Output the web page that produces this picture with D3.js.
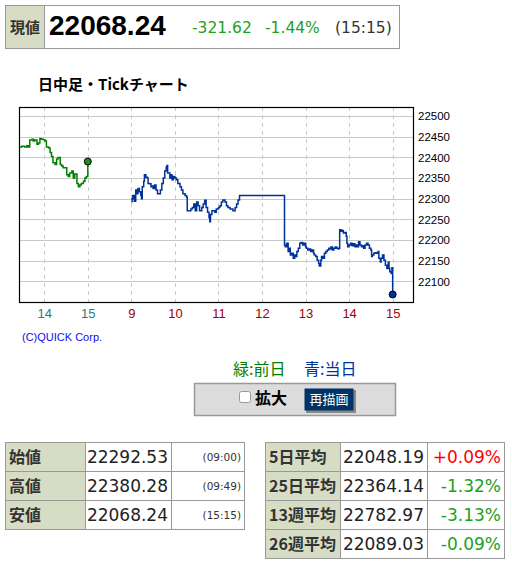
<!DOCTYPE html>
<html>
<head>
<meta charset="utf-8">
<script src="https://cdn.jsdelivr.net/npm/d3@7"></script>
<style>
  body { margin: 0; background: #fff; }
  svg text { font-family: "DejaVu Sans", sans-serif; }
  .jp { font-family: "Noto Sans CJK JP", sans-serif; }
</style>
</head>
<body>
<div id="page"></div>
<script>
// previous day ticks (green), times hh:mm
var prevTimes = ["13:25","13:29","13:33","13:36","13:38","13:40","13:43","13:45","13:47","13:50",
  "13:52","13:54","13:56","13:59","14:01","14:03","14:06","14:08","14:10","14:12",
  "14:15","14:17","14:19","14:22","14:24","14:26","14:29","14:31","14:33","14:35",
  "14:38","14:40","14:42","14:45","14:47","14:49","14:51","14:54","14:56","14:58","15:00"];
var prevValues = [22425,22427,22425,22428,22425,22442,22444,22440,22442,22432,
  22435,22446,22444,22443,22440,22425,22423,22412,22402,22387,
  22383,22396,22400,22383,22379,22375,22375,22358,22354,22362,
  22367,22350,22360,22337,22329,22333,22337,22342,22350,22354,22390];

// today ticks (blue)
var todayTimes = ["09:00","09:01","09:02","09:04","09:06","09:07","09:09","09:11","09:13","09:14",
  "09:15","09:17","09:18","09:20","09:22","09:23","09:25","09:27","09:29","09:30",
  "09:32","09:34","09:36","09:38","09:40","09:42","09:44","09:46","09:48","09:49",
  "09:50","09:53","09:54","09:56","09:58","10:00","10:02","10:04","10:07","10:09",
  "10:11","10:14","10:16","10:17","10:20","10:22","10:24","10:26","10:28","10:30",
  "10:32","10:34","10:37","10:39","10:41","10:43","10:45","10:47","10:48","10:49",
  "10:51","10:53","10:55","10:57","11:00","11:02","11:04","11:06","11:09","11:11",
  "11:13","11:16","11:18","11:20","11:23","11:25","11:27","11:29","11:30","12:30",
  "12:31","12:32","12:34","12:36","12:37","12:39","12:41","12:43","12:45","12:47",
  "12:48","12:50","12:52","12:54","12:56","12:58","13:00","13:01","13:03","13:05",
  "13:07","13:09","13:11","13:12","13:14","13:16","13:18","13:19","13:21","13:22",
  "13:24","13:26","13:28","13:30","13:32","13:34","13:35","13:37","13:39","13:41",
  "13:43","13:45","13:46","13:47","13:49","13:51","13:52","13:54","13:56","13:57",
  "13:58","14:00","14:02","14:04","14:06","14:08","14:09","14:11","14:13","14:15",
  "14:17","14:19","14:20","14:22","14:24","14:26","14:28","14:30","14:31","14:32",
  "14:34","14:36","14:38","14:40","14:41","14:43","14:44","14:46","14:48","14:50",
  "14:52","14:54","14:55","14:56","14:58","14:59","15:00"];
var todayValues = [22292.53,22300,22308,22294,22321,22312,22325,22317,22308,22300,
  22329,22342,22358,22352,22350,22337,22336,22329,22331,22325,
  22333,22321,22312,22312,22321,22337,22350,22367,22376,22380.28,
  22362,22350,22358,22346,22354,22350,22346,22337,22329,22321,
  22312,22308,22304,22271,22271,22275,22279,22287,22271,22292,
  22283,22271,22279,22287,22296,22279,22267,22254,22244,22262,
  22271,22271,22267,22275,22279,22283,22292,22297,22292,22283,
  22279,22275,22275,22271,22279,22287,22297,22308,22308,22308,
  22188,22184,22192,22172,22180,22164,22168,22156,22164,22160,
  22172,22180,22192,22194,22188,22192,22184,22180,22176,22178,
  22172,22176,22168,22164,22160,22151,22143,22137,22151,22160,
  22156,22168,22172,22176,22180,22178,22183,22176,22180,22183,
  22180,22178,22180,22225,22221,22223,22217,22218,22209,22192,
  22184,22188,22192,22186,22191,22184,22188,22184,22196,22188,
  22184,22186,22180,22188,22192,22188,22180,22176,22160,22164,
  22168,22169,22168,22172,22156,22147,22156,22164,22151,22139,
  22131,22147,22131,22123,22119,22133,22068.24];

var yTicks = [22100,22150,22200,22250,22300,22350,22400,22450,22500];
var prevTickHours = [14, 15];
var todayTickHours = [9, 10, 11, 12, 13, 14, 15];

var header = { label: "現値", price: "22068.24", change: "-321.62", pct: "-1.44%", time: "(15:15)" };

var priceRows = ["始値", "高値", "安値"];
var priceVals = ["22292.53", "22380.28", "22068.24"];
var priceTimes = ["(09:00)", "(09:49)", "(15:15)"];

var avgRows = ["5日平均", "25日平均", "13週平均", "26週平均"];
var avgVals = ["22048.19", "22364.14", "22782.97", "22089.03"];
var avgPcts = ["+0.09%", "-1.32%", "-3.13%", "-0.09%"];

var green = "#008000", blue = "#003399", labelBg = "#d7ddc5", borderC = "#999";

var svg = d3.select("#page").append("svg")
    .attr("width", 512)
    .attr("height", 567);

// ---- header box
svg.append("rect").attr("x", 5.5).attr("y", 5.5).attr("width", 394).attr("height", 43)
    .attr("fill", "#fff").attr("stroke", borderC);
svg.append("rect").attr("x", 5.5).attr("y", 5.5).attr("width", 39).attr("height", 43)
    .attr("fill", labelBg).attr("stroke", borderC);
svg.append("text").attr("class", "jp").attr("x", 25).attr("y", 32.5)
    .attr("text-anchor", "middle").style("font-size", "15px").style("font-weight", "bold")
    .attr("fill", "#333").text(header.label);
svg.append("text").attr("x", 49).attr("y", 35)
    .style("font-family", "'Liberation Sans', Arial, sans-serif")
    .style("font-size", "28px").style("font-weight", "bold").text(header.price);
svg.append("text").attr("x", 192).attr("y", 33).style("font-size", "15.5px")
    .attr("fill", "#22a022").text(header.change);
svg.append("text").attr("x", 265).attr("y", 33).style("font-size", "15.5px")
    .attr("fill", "#22a022").text(header.pct);
svg.append("text").attr("x", 335).attr("y", 33).style("font-size", "15.5px")
    .attr("fill", "#333").text(header.time);

// ---- chart title
svg.append("text").attr("class", "jp").attr("x", 38).attr("y", 90)
    .style("font-size", "15px").style("font-weight", "bold").text("日中足・Tickチャート");

// ---- chart
var plotL = 19, plotR = 414, plotT = 107, plotB = 302;

// virtual hour axis: previous day shifted back 7 hours
var x = d3.scaleLinear().domain([6.42, 15.49]).range([plotL, plotR]);
var y = d3.scaleLinear().domain([22050, 22522]).range([plotB, plotT]);

function hours(t) {
    var p = t.split(":");
    return +p[0] + p[1] / 60;
}

var prevData = prevTimes.map(function(t, i) { return { h: hours(t) - 7, v: prevValues[i] }; });
var todayData = todayTimes.map(function(t, i) { return { h: hours(t), v: todayValues[i] }; });

var xTicks = prevTickHours.map(function(h) { return { h: h - 7, label: h, prev: true }; })
    .concat(todayTickHours.map(function(h) { return { h: h, label: h, prev: false }; }));

var g = svg.append("g");

// horizontal grid
g.selectAll(".hgrid").data(yTicks).enter().append("line")
    .attr("x1", plotL).attr("x2", plotR)
    .attr("y1", function(d) { return Math.round(y(d)) + 0.5; })
    .attr("y2", function(d) { return Math.round(y(d)) + 0.5; })
    .attr("stroke", "#c8c8c8").attr("stroke-width", 1);

// vertical dashed grid
g.selectAll(".vgrid").data(xTicks).enter().append("line")
    .attr("x1", function(d) { return Math.round(x(d.h)) + 0.5; })
    .attr("x2", function(d) { return Math.round(x(d.h)) + 0.5; })
    .attr("y1", plotT).attr("y2", plotB)
    .attr("stroke", "#c8c8c8").attr("stroke-dasharray", "4,4");

var line = d3.line()
    .x(function(d) { return x(d.h); })
    .y(function(d) { return y(d.v); })
    .curve(d3.curveStepAfter);

g.append("path").datum(prevData).attr("d", line)
    .attr("fill", "none").attr("stroke", green).attr("stroke-width", 1.5);
g.append("path").datum(todayData).attr("d", line)
    .attr("fill", "none").attr("stroke", blue).attr("stroke-width", 1.5);

// end dots
var lastPrev = prevData[prevData.length - 1], lastToday = todayData[todayData.length - 1];
g.append("circle").attr("cx", x(lastPrev.h)).attr("cy", y(lastPrev.v)).attr("r", 3.5)
    .attr("fill", "#1e8c1e").attr("stroke", "#000");
g.append("circle").attr("cx", x(lastToday.h)).attr("cy", y(lastToday.v)).attr("r", 3.5)
    .attr("fill", blue).attr("stroke", "#000");

// frame
g.append("rect").attr("x", plotL + 0.5).attr("y", plotT + 0.5)
    .attr("width", plotR - plotL - 1).attr("height", plotB - plotT)
    .attr("fill", "none").attr("stroke", "#000").attr("stroke-width", 1.2);

// y labels on the right
var yAxis = g.append("g")
    .attr("transform", "translate(" + plotR + ",0)")
    .call(d3.axisRight(y).tickValues(yTicks).tickSize(0).tickPadding(4).tickFormat(d3.format("d")));
yAxis.select(".domain").remove();
yAxis.selectAll("text").style("font-family", "'Liberation Sans', Arial, sans-serif")
    .style("font-size", "11.5px").attr("fill", "#000");

// x labels
var xAxis = g.append("g")
    .attr("transform", "translate(0," + plotB + ")")
    .call(d3.axisBottom(x).tickValues(xTicks.map(function(d) { return d.h; }))
        .tickSize(0).tickPadding(7)
        .tickFormat(function(d, i) { return xTicks[i].label; }));
xAxis.select(".domain").remove();
xAxis.selectAll("text").style("font-family", "'Liberation Sans', Arial, sans-serif")
    .style("font-size", "13px")
    .attr("fill", function(d, i) { return xTicks[i].prev ? "#1a8080" : "#a00000"; });

svg.append("text").attr("x", 22).attr("y", 341)
    .style("font-family", "'Liberation Sans', Arial, sans-serif").style("font-size", "11px")
    .attr("fill", "#1010e0").text("(C)QUICK Corp.");

// ---- legend
svg.append("text").attr("class", "jp").attr("x", 233).attr("y", 375)
    .style("font-size", "16px").attr("fill", green).text("緑:前日");
svg.append("text").attr("class", "jp").attr("x", 304).attr("y", 375)
    .style("font-size", "16px").attr("fill", blue).text("青:当日");

// ---- control box
svg.append("rect").attr("x", 194.5).attr("y", 383.5).attr("width", 201).attr("height", 32)
    .attr("fill", "#dcdcdc").attr("stroke", borderC).attr("stroke-width", 1.5);
svg.append("rect").attr("x", 239.5).attr("y", 391.5).attr("width", 11).attr("height", 11).attr("rx", 2)
    .attr("fill", "#fff").attr("stroke", "#999");
svg.append("text").attr("class", "jp").attr("x", 255).attr("y", 404)
    .style("font-size", "16px").style("font-weight", "bold").text("拡大");
svg.append("rect").attr("x", 306).attr("y", 390).attr("width", 50).attr("height", 23)
    .attr("fill", "#888");
svg.append("rect").attr("x", 304.5).attr("y", 388.5).attr("width", 49).attr("height", 22)
    .attr("fill", "#003366");
svg.append("text").attr("class", "jp").attr("x", 329).attr("y", 404)
    .attr("text-anchor", "middle").style("font-size", "13px").attr("fill", "#fff").text("再描画");

// ---- tables
function table(x0, y0, cols, rows) {
    var rowH = 29;
    var tg = svg.append("g");
    rows.forEach(function(r, i) {
        var yy = y0 + i * rowH;
        var xx = x0;
        r.forEach(function(c, j) {
            var w = cols[j];
            tg.append("rect").attr("x", xx + 0.5).attr("y", yy + 0.5).attr("width", w).attr("height", rowH)
                .attr("fill", j === 0 ? labelBg : "#fff").attr("stroke", borderC);
            var t = tg.append("text").attr("y", yy + rowH / 2 + 1).attr("dy", "0.35em").text(c.text)
                .style("font-size", c.size + "px").attr("fill", c.color || "#222");
            if (j === 0) {
                t.attr("class", "jp").attr("x", xx + 4).style("font-weight", "bold").attr("fill", "#333");
            } else {
                t.attr("x", xx + w - 3).attr("text-anchor", "end");
            }
            xx += w;
        });
    });
}

table(5, 442, [80, 86, 73], priceRows.map(function(r, i) {
    return [{ text: r, size: 16 }, { text: priceVals[i], size: 17 }, { text: priceTimes[i], size: 10.5, color: "#333" }];
}));

table(265, 442, [75, 87, 77], avgRows.map(function(r, i) {
    return [{ text: r, size: 16 }, { text: avgVals[i], size: 17 },
        { text: avgPcts[i], size: 17, color: avgPcts[i].charAt(0) === "+" ? "#ff0000" : "#22a022" }];
}));
</script>
</body>
</html>
